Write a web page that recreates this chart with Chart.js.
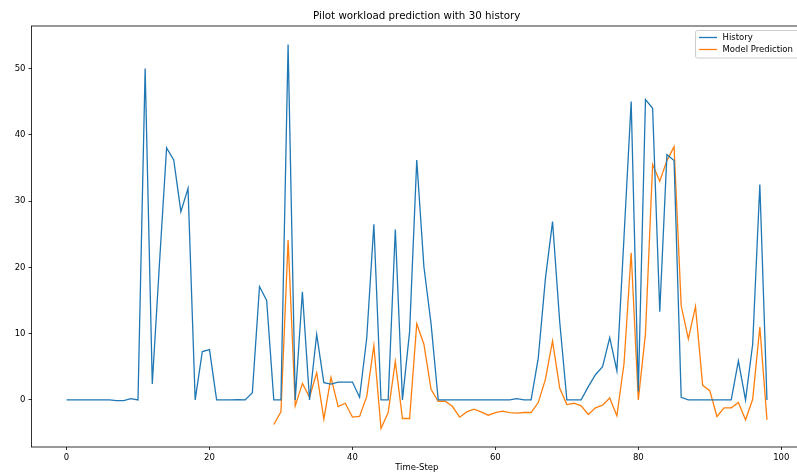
<!DOCTYPE html>
<html>
<head>
<meta charset="utf-8">
<title>Pilot workload prediction</title>
<script src="https://cdn.jsdelivr.net/npm/chart.js@4/dist/chart.umd.min.js"></script>
<style>
  html, body { margin: 0; padding: 0; background: #fff; overflow: hidden; }
  canvas { display: block; }
</style>
</head>
<body>
<canvas id="workloadChart" width="803" height="476"></canvas>
<script>
// workload history, one value per time step (0..98)
const history = [
    0, 0, 0, 0, 0, 0, 0, -0.1, -0.1, 0.2,
    0, 50.0, 2.4, 20.5, 38.0, 36.2, 28.4, 31.9, 0, 7.3,
    7.6, 0, 0, 0, 0.05, 0, 1.1, 17.1, 15.0, 0,
    0, 53.6, 0, 16.3, 0, 9.9, 2.6, 2.4, 2.7, 2.7,
    2.7, 0.4, 9.3, 26.5, 0, 0, 25.7, 0, 10.3, 36.2,
    20.1, 11.5, 0, 0, 0, 0, 0, 0, 0, 0,
    0, 0, 0, 0.2, 0, 0, 6.3, 18.3, 26.9, 11.8,
    0, 0, 0, 2.0, 3.8, 5.0, 9.4, 4.4, 24.6, 45.0,
    1.3, 45.3, 44.0, 13.3, 37.0, 36.1, 0.4, 0, 0, 0,
    0, 0, 0, 0, 5.9, 0, 8.4, 32.5, 0
];

// model output starts once 30 steps of history are available
const predictionStart = 29;
const prediction = [
    -3.7, -1.8, 24.1, -0.9, 2.5, 0.4, 4.1, -2.9, 3.4, -1.0,
    -0.5, -2.6, -2.5, 0.5, 8.2, -4.3, -1.9, 5.8, -2.8, -2.8,
    11.5, 8.4, 1.6, -0.2, -0.2, -1.0, -2.6, -1.8, -1.4, -1.8,
    -2.3, -1.9, -1.7, -1.9, -2.0, -1.9, -1.9, -0.4, 3.1, 8.9,
    1.8, -0.7, -0.5, -0.9, -2.2, -1.2, -0.8, 0.3, -2.4, 5.5,
    22.2, 0, 10.0, 35.5, 33.0, 36.1, 38.2, 14.2, 9.2, 14.1,
    2.2, 1.4, -2.5, -1.2, -1.2, -0.4, -3.0, 0.1, 11.0, -3.0
];

const xTicks = [0, 20, 40, 60, 80, 100];
const yTicks = [0, 10, 20, 30, 40, 50];

const FONT = "'DejaVu Sans', sans-serif";
const BLUE = "#1f77b4";
const ORANGE = "#ff7f0e";

// frame around the plot area, legend box and title
const framePlugin = {
    id: "frame",
    afterDatasetsDraw(chart) {
        const { ctx, chartArea: a } = chart;
        ctx.save();
        ctx.strokeStyle = "#000";
        ctx.lineWidth = 0.8;
        ctx.strokeRect(a.left, a.top, a.right - a.left, a.bottom - a.top);

        // legend
        const bx = 695.5, by = 30.5, bw = 110, bh = 27.5;
        ctx.fillStyle = "rgba(255,255,255,0.8)";
        ctx.strokeStyle = "#cccccc";
        ctx.lineWidth = 1;
        ctx.beginPath();
        ctx.roundRect(bx, by, bw, bh, 2);
        ctx.fill();
        ctx.stroke();
        ctx.font = "8.5px " + FONT;
        ctx.textBaseline = "middle";
        chart.data.datasets.forEach((ds, i) => {
            const y = 37.5 + i * 12;
            ctx.strokeStyle = ds.borderColor;
            ctx.lineWidth = 1.3;
            ctx.beginPath();
            ctx.moveTo(699, y);
            ctx.lineTo(717, y);
            ctx.stroke();
            ctx.fillStyle = "#000";
            ctx.fillText(ds.label, 722.5, y + 0.5);
        });

        // title
        ctx.font = "10.3px " + FONT;
        ctx.textAlign = "center";
        ctx.fillStyle = "#000";
        ctx.fillText("Pilot workload prediction with 30 history", (a.left + a.right) / 2, 16.5);
        ctx.restore();
    }
};

const ctx = document.getElementById("workloadChart").getContext("2d");

new Chart(ctx, {
    type: "line",
    data: {
        datasets: [{
            label: "History",
            data: history.map((v, i) => ({ x: i, y: v })),
            borderColor: BLUE,
            borderWidth: 1.3,
            pointRadius: 0,
            tension: 0
        }, {
            label: "Model Prediction",
            data: prediction.map((v, i) => ({ x: predictionStart + i, y: v })),
            borderColor: ORANGE,
            borderWidth: 1.3,
            pointRadius: 0,
            tension: 0
        }]
    },
    options: {
        responsive: false,
        animation: false,
        layout: { padding: { top: 26, right: 1, left: 0, bottom: 0 } },
        plugins: {
            legend: { display: false },
            title: { display: false },
            tooltip: { enabled: false }
        },
        scales: {
            x: {
                type: "linear",
                min: -4.9,
                max: 102.9,
                afterBuildTicks: s => { s.ticks = xTicks.map(v => ({ value: v })); },
                afterFit: s => { s.height = 29; },
                grid: { drawOnChartArea: false, drawTicks: true, tickLength: 3, color: "#000", lineWidth: 0.8 },
                border: { display: false },
                ticks: { color: "#000", font: { family: FONT, size: 8.5 }, padding: 3, maxRotation: 0 },
                title: { display: true, text: "Time-Step", color: "#000", font: { family: FONT, size: 8.5 }, padding: { top: 0, bottom: 3 } }
            },
            y: {
                min: -7.1,
                max: 56.4,
                afterBuildTicks: s => { s.ticks = yTicks.map(v => ({ value: v })); },
                afterFit: s => { s.width = 31.5; },
                grid: { drawOnChartArea: false, drawTicks: true, tickLength: 3, color: "#000", lineWidth: 0.8 },
                border: { display: false },
                ticks: { color: "#000", font: { family: FONT, size: 8.5 }, padding: 3 }
            }
        }
    },
    plugins: [framePlugin]
});
</script>
</body>
</html>
